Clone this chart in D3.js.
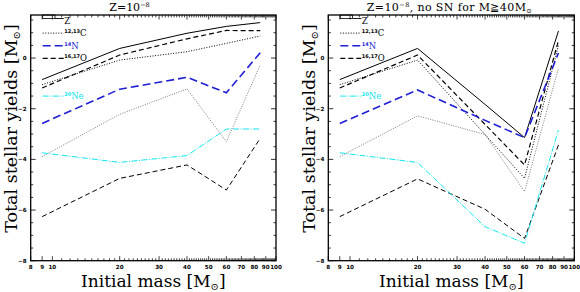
<!DOCTYPE html>
<html><head><meta charset="utf-8">
<script src="https://cdn.jsdelivr.net/npm/d3@7"></script>
<style>body{margin:0;background:#fff}svg{display:block}</style>
</head><body>
<svg id="c" width="580" height="292"></svg>
<script>
// ---- data ----
const masses = [9, 20, 40, 60, 85];
const xTickLabels = [8, 9, 10, 20, 30, 40, 50, 60, 70, 80, 90, 100];
const yTickLabels = [0, -2, -4, -6, -8];

const zLeft    = [-0.85, 0.38, 0.98, 1.25, 1.40];
const cLeft    = [-1.05, -0.08, 0.25, 0.58, 0.87];
const nLeft    = [-2.58, -1.23, -0.76, -1.37, 0.21];
const oLeft    = [-1.18, 0.12, 0.76, 1.09, 1.08];
const neLeft   = [-3.74, -4.12, -3.85, -2.80, -2.80];
const greyLeft = [-3.89, -2.22, -1.22, -3.30, -0.27];
const lowLeft  = [-6.26, -4.75, -4.22, -5.21, -3.17];

const zRight    = [-0.85, 0.38, -1.83, -3.14, 1.07];
const cRight    = [-1.05, -0.08, -3.02, -4.75, 0.50];
const nRight    = [-2.58, -1.26, -2.46, -3.14, 0.20];
const oRight    = [-1.18, 0.12, -2.62, -4.22, 0.70];
const neRight   = [-3.74, -4.12, -6.66, -7.31, -2.84];
const greyRight = [-3.89, -2.28, -3.02, -5.27, -0.40];
const lowRight  = [-6.26, -4.77, -5.97, -7.12, -3.43];

const legendNames = [
  {key:"z", sup:"", el:"Z"},
  {key:"c", sup:"12,13", el:"C"},
  {key:"n", sup:"14", el:"N"},
  {key:"o", sup:"16,17", el:"O"},
  {key:"ne", sup:"20", el:"Ne", row:6}
];

// ---- styles ----
const styles = {
  z:    {color:"#000", width:1.0, dash:null},
  c:    {color:"#000", width:1.0, dash:"1,1.6"},
  n:    {color:"#1f1fd6", width:1.6, dash:"8,4"},
  o:    {color:"#000", width:1.2, dash:"5,3"},
  ne:   {color:"#10e6f2", width:1.0, dash:"6,1.5,1,1.5"},
  grey: {color:"#7a7a7a", width:1.0, dash:"1,1.4"},
  low:  {color:"#000", width:1.0, dash:"5,3"}
};

const svg = d3.select("#c");
const serif = "DejaVu Serif, serif";

const panels = [
  {x0:30.7, x1:276,
   series:{z:zLeft,c:cLeft,n:nLeft,o:oLeft,ne:neLeft,grey:greyLeft,low:lowLeft}},
  {x0:328.3, x1:574.3,
   series:{z:zRight,c:cRight,n:nRight,o:oRight,ne:neRight,grey:greyRight,low:lowRight}}
];
const y0 = 15, y1 = 260.7;

panels.forEach((p, pi) => {
  const x = d3.scaleLog().domain([8, 100]).range([p.x0, p.x1]);
  const y = d3.scaleLinear().domain([-8, 1.7]).range([y1, y0]);
  const g = svg.append("g");

  const cid = "clip" + pi;
  svg.append("clipPath").attr("id", cid).append("rect")
    .attr("x", p.x0).attr("y", y0).attr("width", p.x1 - p.x0).attr("height", y1 - y0);

  d3.range(8, 101).forEach(v => {
    const major = xTickLabels.includes(v);
    const len = major ? 4.5 : 2.4;
    g.append("line").attr("x1", x(v)).attr("x2", x(v)).attr("y1", y1).attr("y2", y1 - len)
      .attr("stroke", "#000").attr("stroke-width", 0.75);
    g.append("line").attr("x1", x(v)).attr("x2", x(v)).attr("y1", y0).attr("y2", y0 + len)
      .attr("stroke", "#000").attr("stroke-width", 0.75);
  });
  d3.range(-8, 1.71, 0.5).forEach(v => {
    const major = Math.abs(v % 2) < 1e-6;
    const len = major ? 5 : 2.5;
    g.append("line").attr("x1", p.x0).attr("x2", p.x0 + len).attr("y1", y(v)).attr("y2", y(v))
      .attr("stroke", "#000").attr("stroke-width", 0.8);
    g.append("line").attr("x1", p.x1).attr("x2", p.x1 - len).attr("y1", y(v)).attr("y2", y(v))
      .attr("stroke", "#000").attr("stroke-width", 0.8);
  });

  g.selectAll(".xl").data(xTickLabels).enter().append("text")
    .attr("x", d => x(d)).attr("y", 268.5).attr("text-anchor", "middle")
    .attr("font-family", "DejaVu Sans, sans-serif").attr("font-weight", "bold")
    .attr("font-size", 5.6).text(d => d);
  g.selectAll(".yl").data(yTickLabels).enter().append("text")
    .attr("x", p.x0 - 4).attr("y", d => y(d) + 2).attr("text-anchor", "end")
    .attr("font-family", "DejaVu Sans, sans-serif").attr("font-weight", "bold")
    .attr("font-size", 5.6).text(d => d === 0 ? "0" : "\u2212" + Math.abs(d));

  const line = d3.line().x((d, i) => x(masses[i])).y(d => y(d));
  ["low", "grey", "ne", "c", "o", "z", "n"].forEach(k => {
    const s = styles[k];
    g.append("path").datum(p.series[k]).attr("d", line)
      .attr("fill", "none").attr("stroke", s.color).attr("stroke-width", s.width)
      .attr("stroke-dasharray", s.dash).attr("clip-path", `url(#${cid})`);
  });

  const lx0 = p.x0 + 12, lx1 = p.x0 + 33;
  legendNames.forEach((L, i) => {
    const row = L.row !== undefined ? L.row : i;
    const ly = 20.5 + row * 12.6;
    const s = styles[L.key];
    if (L.key === "z") {
      g.append("rect").attr("x", lx0).attr("y", y0).attr("width", 12.3).attr("height", ly - 2 - y0)
        .attr("fill", "none").attr("stroke", "#000").attr("stroke-width", 0.8);
      g.append("line").attr("x1", lx0 + 12.3).attr("x2", lx1).attr("y1", ly - 2).attr("y2", ly - 2)
        .attr("stroke", "#000").attr("stroke-width", 0.9);
    } else {
      g.append("line").attr("x1", lx0).attr("x2", lx1).attr("y1", ly).attr("y2", ly)
        .attr("stroke", s.color).attr("stroke-width", s.width).attr("stroke-dasharray", s.dash);
    }
    const t = g.append("text").attr("x", lx1 + 0.5).attr("y", ly + 3)
      .attr("font-family", serif).attr("font-size", 8.5)
      .attr("fill", (L.key === "n" || L.key === "ne") ? s.color : "#000");
    if (L.sup) t.append("tspan").attr("font-size", 5).attr("font-weight", "bold")
      .attr("font-family", "DejaVu Sans, sans-serif").attr("dy", -3).text(L.sup);
    t.append("tspan").attr("dy", L.sup ? 3 : 0).text(L.el);
  });

  g.append("rect").attr("x", p.x0).attr("y", y0).attr("width", p.x1 - p.x0).attr("height", y1 - y0)
    .attr("fill", "none").attr("stroke", "#000").attr("stroke-width", 1.3);

  const cx = (p.x0 + p.x1) / 2;
  const xl = g.append("text").attr("x", cx).attr("y", 286.5).attr("text-anchor", "middle")
    .attr("font-family", serif).attr("font-size", 17);
  xl.append("tspan").text("Initial mass [M");
  xl.append("tspan").attr("font-size", 10).attr("dy", 3).text("\u2299");
  xl.append("tspan").attr("dy", -3).text("]");

  const ylx = p.x0 - 13.5, yly = 128.5;
  const yl = g.append("text").attr("transform", `translate(${ylx},${yly}) rotate(-90)`)
    .attr("text-anchor", "middle").attr("font-family", serif).attr("font-size", 17.5);
  yl.append("tspan").text("Total stellar yields [M");
  yl.append("tspan").attr("font-size", 10).attr("dy", 3).text("\u2299");
  yl.append("tspan").attr("dy", -3).text("]");

  const tt = g.append("text").attr("x", pi === 0 ? 129.5 : 449.5).attr("y", 10.5)
    .attr("text-anchor", "middle").attr("font-family", serif).attr("font-size", 11)
    .attr("letter-spacing", pi === 1 ? 0.4 : 0);
  tt.append("tspan").text("Z=10");
  tt.append("tspan").attr("font-size", 6.5).attr("dy", -4).text("\u22128");
  if (pi === 1) {
    tt.append("tspan").attr("dy", 4).text(", no SN for M\u226740M");
    tt.append("tspan").attr("font-size", 6.5).attr("dy", 2).text("\u2299");
  }
});
</script>
</body></html>
